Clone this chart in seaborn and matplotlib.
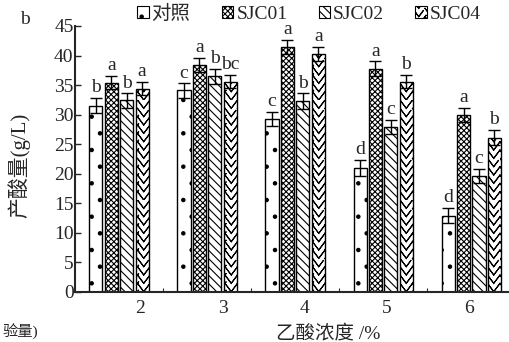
import warnings
import matplotlib
matplotlib.use("Agg")
from matplotlib import pyplot as plt
from matplotlib import hatch as mhatch
from matplotlib.path import Path
from matplotlib.patches import Patch
import numpy as np
import pandas as pd
import seaborn as sns

warnings.filterwarnings("ignore")

concentrations = ["2", "3", "4", "5", "6"]
strains = ["对照", "SJC01", "SJC02", "SJC04"]

ctrl = [31.5, 34.1, 29.3, 21.0, 12.9]
sjc01 = [35.4, 38.4, 41.5, 37.8, 29.9]
sjc02 = [32.4, 36.5, 32.3, 27.9, 19.6]
sjc04 = [34.4, 35.6, 40.3, 35.6, 26.1]

ctrl_err = [1.3, 1.2, 1.2, 1.3, 1.3]
sjc01_err = [1.1, 1.2, 1.2, 1.2, 1.2]
sjc02_err = [1.2, 1.3, 1.3, 1.2, 1.2]
sjc04_err = [1.1, 1.1, 1.2, 1.1, 1.3]

ctrl_sig = ["b", "c", "c", "d", "d"]
sjc01_sig = ["a", "a", "a", "a", "a"]
sjc02_sig = ["b", "b", "b", "c", "c"]
sjc04_sig = ["a", "bc", "a", "b", "b"]

values = [ctrl, sjc01, sjc02, sjc04]
errors = [ctrl_err, sjc01_err, sjc02_err, sjc04_err]
letters = [ctrl_sig, sjc01_sig, sjc02_sig, sjc04_sig]
hatches = [".", "xxxxxx", "\\\\\\\\", "v"]


class Chevrons(mhatch.HatchPatternBase):
    # stacked V shapes, close to the scalloped fill of the original
    def __init__(self, hatch, density):
        n = hatch.count("v")
        self.rows = 2 * density * n
        self.cols = (density + 2) * n
        self.num_vertices = self.rows * self.cols * 5

    def set_vertices_and_codes(self, vertices, codes):
        w = 1.0 / self.cols
        h = 1.0 / self.rows
        i = 0
        for r in range(self.rows):
            for c in range(self.cols):
                x0, y0 = c * w, r * h
                a, b, d = (x0, y0 + h), (x0 + w / 2, y0), (x0 + w, y0 + h)
                # go out and back so the stroke encloses no area
                vertices[i:i + 5] = [a, b, d, b, a]
                codes[i:i + 5] = [Path.MOVETO] + [Path.LINETO] * 4
                i += 5


if Chevrons not in mhatch._hatch_types:
    mhatch._hatch_types.append(Chevrons)

df = pd.DataFrame({
    "conc": concentrations * len(strains),
    "strain": np.repeat(strains, len(concentrations)),
    "acid": np.concatenate(values),
})

sns.set_theme(style="ticks")
plt.rcParams["font.family"] = ["Liberation Serif", "Noto Sans CJK SC"]
plt.rcParams["hatch.linewidth"] = 0.8
plt.rcParams["hatch.color"] = "black"

fig = plt.figure(figsize=(5.1, 3.42), dpi=100)
ax = fig.add_axes([75 / 510, 1 - 292 / 342, 1 - 75 / 510, (292 - 26) / 342])

sns.barplot(data=df, x="conc", y="acid", hue="strain", order=concentrations,
            hue_order=strains, errorbar=None, width=0.70, gap=0.15,
            palette=["white"] * 4, edgecolor="black",
            linewidth=1.0, legend=False, ax=ax)

bar_groups = list(ax.containers)
for k, cont in enumerate(bar_groups):
    for j, bar in enumerate(cont):
        bar.set_hatch(hatches[k])
        xc = bar.get_x() + bar.get_width() / 2
        v = values[k][j]
        e = errors[k][j]
        ax.errorbar(xc, v, yerr=e, fmt="none", ecolor="black",
                    elinewidth=1.0, capsize=4.5, capthick=1.0)
        ax.text(xc, v + e + 0.3, letters[k][j], ha="center", va="bottom",
                fontsize=14)

ax.set_ylim(0, 45)
ax.set_xlim(-0.5, 4.44)
ax.set_yticks(range(0, 46, 5))
ax.tick_params(axis="y", direction="in", length=4, width=1, labelsize=14, pad=1)

label_pos = np.arange(len(concentrations)) * 0.935 + 0.24
ax.set_xticks(label_pos)
ax.set_xticklabels(concentrations)
ax.set_xticks(np.arange(len(concentrations) - 1) + 0.5, minor=True)
ax.tick_params(axis="x", which="major", length=0, labelsize=14, pad=6)
ax.tick_params(axis="x", which="minor", direction="in", length=3, width=0.8)
ax.set_xlabel("")
ax.set_ylabel("")
sns.despine(ax=ax)
ax.spines["left"].set_linewidth(1.5)
ax.spines["bottom"].set_linewidth(1.5)

fig.text(19 / 510, 1 - 165 / 342, "产酸量(g/L)", rotation=90, ha="center",
         va="center", fontsize=15)
fig.text(328 / 510, 1 - 333 / 342, "乙酸浓度 /%", ha="center", va="center",
         fontsize=14)
fig.text(25 / 510, 1 - 19 / 342, "b", ha="center", va="center", fontsize=14)
fig.text(2 / 510, 2 / 342, "验量)", ha="left", va="bottom", fontsize=11)

handles = [Patch(facecolor="white", edgecolor="black", hatch=h, linewidth=0.8)
           for h in hatches]
fig.legend(handles, strains, loc="center", bbox_to_anchor=(309 / 510, 1 - 14 / 342),
           ncol=4, frameon=False, fontsize=14, handlelength=0.6, handleheight=0.6,
           handletextpad=0.15, columnspacing=1.6, borderaxespad=0)

fig.savefig("out.png", dpi=100)
